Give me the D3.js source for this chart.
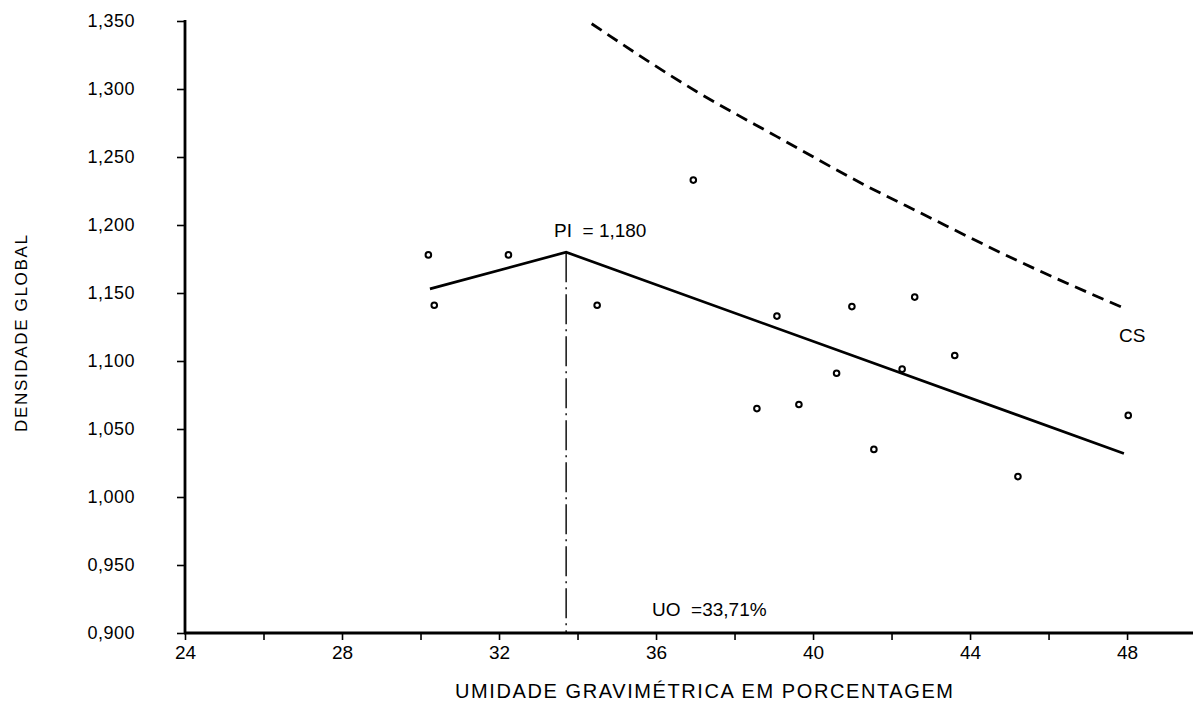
<!DOCTYPE html>
<meta charset="utf-8">
<script src="https://d3js.org/d3.v7.min.js"></script>
<style>
  body { margin: 0; background: #fff; }
  text { font-family: "Liberation Sans", Arial, sans-serif; fill: #000; }
</style>
<div id="my_dataviz"></div>
<script>

    // data
    var xTicks = [24, 26, 28, 30, 32, 34, 36, 38, 40, 42, 44, 46, 48];
    var xTickLabels = ["24", "", "28", "", "32", "", "36", "", "40", "", "44", "", "48"];
    var yTicks = [0.90, 0.95, 1.00, 1.05, 1.10, 1.15, 1.20, 1.25, 1.30, 1.35];
    var yTickLabels = ["0,900", "0,950", "1,000", "1,050", "1,100", "1,150", "1,200", "1,250", "1,300", "1,350"];

    // measured samples (umidade %, densidade)
    var umidade   = [30.20, 30.35, 32.24, 34.50, 36.95, 39.08, 40.99, 42.59, 40.60, 42.27, 43.61, 38.57, 39.64, 41.55, 45.22, 48.03];
    var densidade = [1.178, 1.141, 1.178, 1.141, 1.233, 1.133, 1.140, 1.147, 1.091, 1.094, 1.104, 1.065, 1.068, 1.035, 1.015, 1.060];

    // fitted broken line
    var fitX = [30.24, 33.71, 47.92];
    var fitY = [1.153, 1.180, 1.032];

    // saturation curve (CS)
    var csX = [34.36, 37.04, 39.08, 41.41, 42.73, 45.19, 47.91];
    var csY = [1.348, 1.298, 1.265, 1.228, 1.209, 1.174, 1.139];

    var uo = 33.71, pi = 1.180;

    var W = 1193, H = 711;

    var svg = d3.select("#my_dataviz")
      .append("svg")
        .attr("width", W)
        .attr("height", H);

    var x = d3.scaleLinear()
        .domain([24, 49.68])
        .range([185, 1193]);
    var y = d3.scaleLinear()
        .domain([0.9, 1.35])
        .range([633, 21]);

    // X axis
    var xAxis = svg.append("g")
        .attr("transform", "translate(0," + y(0.9) + ")")
        .call(d3.axisBottom(x)
            .tickValues(xTicks)
            .tickSize(7)
            .tickPadding(6)
            .tickFormat(function(d, i) { return xTickLabels[i]; }));
    xAxis.select(".domain").attr("d", "M" + (x(24) - 1) + ",0H" + W).attr("stroke-width", 3.2);
    xAxis.selectAll(".tick line").attr("stroke-width", 1.6);
    xAxis.selectAll(".tick text").attr("font-size", 19);

    // Y axis
    var yAxis = svg.append("g")
        .attr("transform", "translate(" + x(24) + ",0)")
        .call(d3.axisLeft(y)
            .tickValues(yTicks)
            .tickSize(8)
            .tickPadding(42)
            .tickFormat(function(d, i) { return yTickLabels[i]; }));
    yAxis.select(".domain").attr("d", "M0," + (y(1.35) - 1) + "V" + y(0.9)).attr("stroke-width", 2.8);
    yAxis.selectAll(".tick line").attr("stroke-width", 1.6);
    yAxis.selectAll(".tick text")
        .attr("font-size", 18)
        .style("letter-spacing", "0.5px");

    // axis titles
    svg.append("text")
        .attr("x", 455)
        .attr("y", 698)
        .attr("textLength", 498)
        .attr("lengthAdjust", "spacing")
        .attr("font-size", 20)
        .text("UMIDADE GRAVIMÉTRICA EM PORCENTAGEM");

    svg.append("text")
        .attr("transform", "translate(27,432) rotate(-90)")
        .attr("textLength", 197)
        .attr("lengthAdjust", "spacing")
        .attr("font-size", 17)
        .text("DENSIDADE GLOBAL");

    // vertical line at the optimum moisture
    svg.append("line")
        .attr("x1", x(uo)).attr("x2", x(uo))
        .attr("y1", y(pi)).attr("y2", y(0.9))
        .attr("stroke", "#000")
        .attr("stroke-width", 1.4)
        .attr("stroke-dasharray", "30,5,2,5");

    // saturation curve
    svg.append("path")
        .attr("d", d3.line()
            .x(function(d, i) { return x(csX[i]); })
            .y(function(d, i) { return y(csY[i]); })
            .curve(d3.curveMonotoneX)(csX))
        .attr("fill", "none")
        .attr("stroke", "#000")
        .attr("stroke-width", 2.8)
        .attr("stroke-dasharray", "12,7");

    // fitted line
    svg.append("path")
        .attr("d", d3.line()
            .x(function(d, i) { return x(fitX[i]); })
            .y(function(d, i) { return y(fitY[i]); })(fitX))
        .attr("fill", "none")
        .attr("stroke", "#000")
        .attr("stroke-width", 2.7);

    // sample points
    svg.selectAll("circle.pt")
        .data(umidade)
        .enter()
        .append("circle")
        .attr("class", "pt")
        .attr("cx", function(d) { return x(d); })
        .attr("cy", function(d, i) { return y(densidade[i]); })
        .attr("r", 2.8)
        .attr("fill", "#fff")
        .attr("stroke", "#000")
        .attr("stroke-width", 2);

    // annotations
    svg.append("text")
        .attr("x", 554)
        .attr("y", 237)
        .attr("font-size", 19)
        .style("white-space", "pre")
        .text("PI  = 1,180");

    svg.append("text")
        .attr("x", 652)
        .attr("y", 616)
        .attr("font-size", 19)
        .style("white-space", "pre")
        .text("UO  =33,71%");

    svg.append("text")
        .attr("x", 1119)
        .attr("y", 342)
        .attr("font-size", 19)
        .text("CS");

</script>
